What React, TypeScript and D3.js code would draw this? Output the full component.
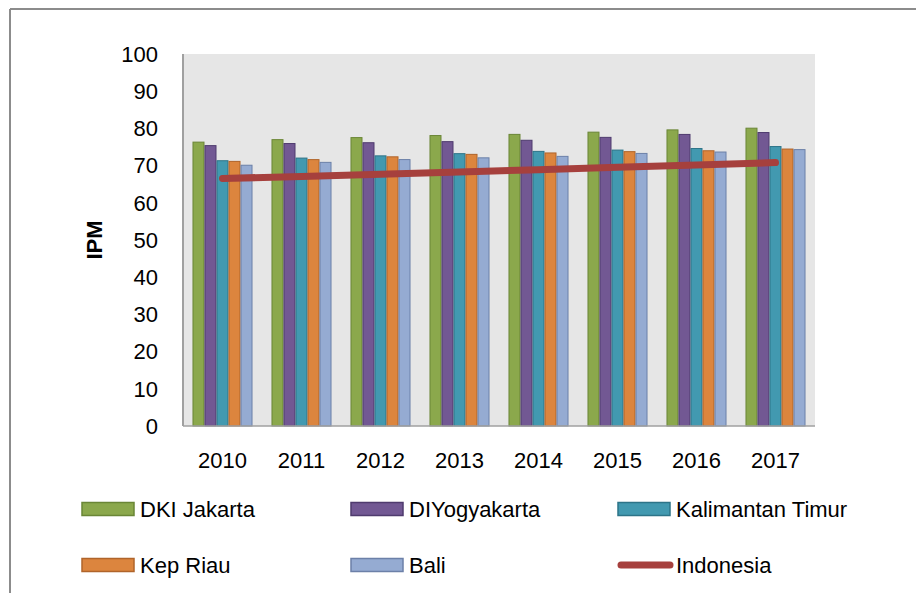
import React from "react";
import * as d3 from "d3";

const years = ["2010", "2011", "2012", "2013", "2014", "2015", "2016", "2017"];
const dkiJakarta = [76.31, 76.98, 77.53, 78.08, 78.39, 78.99, 79.6, 80.06];
const diYogyakarta = [75.37, 75.93, 76.15, 76.44, 76.81, 77.59, 78.38, 78.89];
const kalimantanTimur = [71.31, 72.02, 72.62, 73.21, 73.82, 74.17, 74.59, 75.12];
const kepRiau = [71.13, 71.61, 72.36, 73.02, 73.4, 73.75, 73.99, 74.45];
const bali = [70.1, 70.87, 71.62, 72.09, 72.48, 73.27, 73.65, 74.3];
const indonesia = [66.53, 67.09, 67.7, 68.31, 68.9, 69.55, 70.18, 70.81];
const yTicks = [0, 10, 20, 30, 40, 50, 60, 70, 80, 90, 100];

const barSeries = [
  { name: "DKI Jakarta", values: dkiJakarta, fill: "#8BA84C", stroke: "#6A8636" },
  { name: "DIYogyakarta", values: diYogyakarta, fill: "#725893", stroke: "#4F3B6E" },
  { name: "Kalimantan Timur", values: kalimantanTimur, fill: "#4299B0", stroke: "#2D7488" },
  { name: "Kep Riau", values: kepRiau, fill: "#DC853E", stroke: "#B0642A" },
  { name: "Bali", values: bali, fill: "#95ABD2", stroke: "#6C80A8" },
];
const lineSeries = { name: "Indonesia", values: indonesia, stroke: "#A6403D" };

const FONT = "'Liberation Sans', Arial, sans-serif";

export default function App() {
  const W = 916, H = 593;
  const left = 183, right = 815, top = 54, bottom = 426;

  const x0 = d3.scaleBand<string>().domain(years).range([left, right]).paddingInner(0).paddingOuter(0);
  const x1 = d3
    .scaleBand<string>()
    .domain(barSeries.map((s) => s.name))
    .range([0, x0.bandwidth()])
    .paddingInner(0)
    .paddingOuter(0.79);
  const y = d3.scaleLinear().domain([0, 100]).range([bottom, top]);

  const line = d3
    .line<number>()
    .x((_, i) => (x0(years[i]) as number) + x0.bandwidth() / 2)
    .y((v) => y(v));

  const legendItems = [
    ...barSeries.map((s) => ({ name: s.name, type: "bar", fill: s.fill, stroke: s.stroke })),
    { name: lineSeries.name, type: "line", fill: lineSeries.stroke, stroke: lineSeries.stroke },
  ];
  const legendCols = [82, 351, 618];
  const legendRows = [509, 565];

  return (
    <svg width={W} height={H} style={{ position: "absolute", left: 0, top: 0, background: "#fff" }}>
      {/* outer border */}
      <line x1={10} y1={9} x2={10} y2={H} stroke="#8C8C8C" strokeWidth={2} />
      <line x1={10} y1={9} x2={W} y2={9} stroke="#8C8C8C" strokeWidth={2} />

      {/* plot area */}
      <rect x={left} y={top} width={right - left} height={bottom - top} fill="#E6E6E6" />

      {/* bars */}
      {barSeries.map((s) => (
        <g key={s.name}>
          {s.values.map((v, i) => (
            <rect
              key={i}
              x={(x0(years[i]) as number) + (x1(s.name) as number) + 0.5}
              y={y(v)}
              width={x1.bandwidth() - 1}
              height={bottom - y(v)}
              fill={s.fill}
              stroke={s.stroke}
              strokeWidth={1}
            />
          ))}
        </g>
      ))}

      {/* axes */}
      <line x1={left} y1={top} x2={left} y2={bottom} stroke="#A0A0A0" strokeWidth={2} />
      <line x1={left} y1={bottom} x2={right} y2={bottom} stroke="#A0A0A0" strokeWidth={1.5} />

      {/* line */}
      <path
        d={line(lineSeries.values) || ""}
        fill="none"
        stroke={lineSeries.stroke}
        strokeWidth={7}
        strokeLinecap="round"
        strokeLinejoin="round"
      />

      {/* y ticks */}
      {yTicks.map((t) => (
        <text
          key={t}
          x={158}
          y={y(t)}
          dy="0.35em"
          textAnchor="end"
          fontFamily={FONT}
          fontSize={22}
          fill="#000"
        >
          {t}
        </text>
      ))}

      {/* y label */}
      <text
        transform={`translate(102,${(top + bottom) / 2}) rotate(-90)`}
        textAnchor="middle"
        fontFamily={FONT}
        fontSize={22}
        fontWeight="bold"
        fill="#000"
      >
        IPM
      </text>

      {/* x labels */}
      {years.map((yr) => (
        <text
          key={yr}
          x={(x0(yr) as number) + x0.bandwidth() / 2}
          y={468}
          textAnchor="middle"
          fontFamily={FONT}
          fontSize={22}
          fill="#000"
        >
          {yr}
        </text>
      ))}

      {/* legend */}
      {legendItems.map((it, i) => {
        const lx = legendCols[i % 3];
        const ly = legendRows[Math.floor(i / 3)];
        return (
          <g key={it.name}>
            {it.type === "bar" ? (
              <rect x={lx} y={ly - 6.5} width={52} height={13} fill={it.fill} stroke={it.stroke} strokeWidth={1.5} />
            ) : (
              <line x1={lx + 3} y1={ly} x2={lx + 52} y2={ly} stroke={it.stroke} strokeWidth={7} strokeLinecap="round" />
            )}
            <text x={lx + 58} y={ly} dy="0.35em" fontFamily={FONT} fontSize={22} fill="#000">
              {it.name}
            </text>
          </g>
        );
      })}
    </svg>
  );
}
